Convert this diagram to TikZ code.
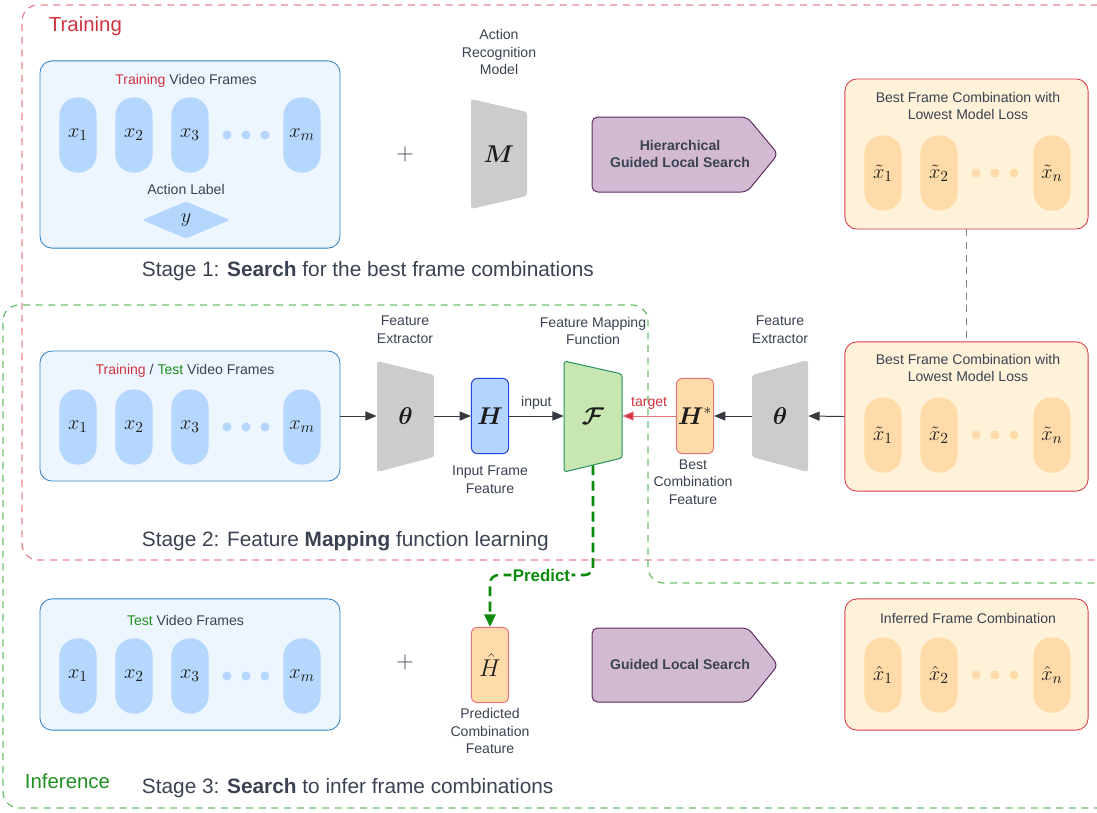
\documentclass[tikz,border=0pt]{standalone}
\usepackage{amsmath}
\usepackage{fontspec}
\setmainfont{Liberation Sans}
\usetikzlibrary{arrows.meta,shapes.geometric}
\definecolor{ink}{HTML}{3B4251}
\definecolor{mathink}{HTML}{1C1C1C}
\definecolor{trainred}{HTML}{D0323F}
\definecolor{testgreen}{HTML}{1F8F1F}
\definecolor{traindash}{HTML}{E8868E}
\definecolor{testdash}{HTML}{6DC06D}
\definecolor{framefill}{HTML}{EDF5FE}
\definecolor{frameline}{HTML}{3184C6}
\definecolor{pillblue}{HTML}{B5D7FD}
\definecolor{combofill}{HTML}{FFF2D9}
\definecolor{comboline}{HTML}{D93A4A}
\definecolor{pillorange}{HTML}{FEDBA9}
\definecolor{encgray}{HTML}{CCCCCC}
\definecolor{featfill}{HTML}{B4D4FE}
\definecolor{featline}{HTML}{2443D9}
\definecolor{mapfill}{HTML}{C7E6B1}
\definecolor{mapline}{HTML}{23905F}
\definecolor{glsfill}{HTML}{D2BBD2}
\definecolor{glsline}{HTML}{5D2C5D}
\definecolor{predgreen}{HTML}{0A8A0A}
\definecolor{arrowink}{HTML}{343A40}
\definecolor{targetline}{HTML}{E5737C}

\begin{document}
\begin{tikzpicture}[x=0.025cm,y=-0.025cm,text=ink,line join=round,
  font=\fontsize{10}{12.5}\selectfont,
  vidbox/.style={draw=frameline,fill=framefill,line width=0.6pt,rounded corners=0.3cm,
    minimum width=7.5cm,inner sep=0pt},
  combobox/.style={draw=comboline,fill=combofill,line width=0.6pt,rounded corners=0.3cm,
    minimum width=6.08cm,inner sep=0pt},
  pill/.style={rounded corners=0.45cm,minimum width=0.93cm,minimum height=1.88cm,
    inner sep=0pt,text=mathink,font=\fontsize{15}{15}\selectfont},
  bluepill/.style={pill,fill=pillblue},
  orpill/.style={pill,fill=pillorange},
  featbox/.style={rounded corners=0.15cm,minimum width=0.93cm,minimum height=1.88cm,
    inner sep=0pt,line width=0.7pt,text=mathink,font=\fontsize{16}{16}\selectfont},
  encnode/.style={minimum height=2.45cm,inner sep=0pt,text=mathink,
    font=\fontsize{16}{16}\selectfont},
  stage/.style={anchor=west,font=\fontsize{14.8}{16}\selectfont},
  flow/.style={draw=arrowink,line width=0.7pt,-{Triangle[length=8pt,width=6.5pt]}},
  dashline/.style={line width=0.9pt,dash pattern=on 5pt off 4pt,rounded corners=0.4cm}]
  \useasboundingbox (0,0) rectangle (1097,812);

  % Training and inference regions.
  \draw[dashline,traindash] (1120,560) -| (22,5) -- (1120,5);
  \draw[dashline,testdash] (1120,583) -| (648,305) -| (3,808) -- (1120,808);
  \node[anchor=west,text=trainred,font=\fontsize{14.5}{16}\selectfont] at (44,26) {Training};
  \node[anchor=west,text=testgreen,font=\fontsize{14.5}{16}\selectfont] at (20,781) {Inference};

  % Stage 1: search.
  \node[vidbox,minimum height=4.68cm] (vf1) at (190,154.5) {};
  \node at (186,81) {{\color{trainred}Training} Video Frames};
  \node[bluepill] (a1) at (78,135) {$x_1$};
  \node[bluepill] (a2) at (134,135) {$x_2$};
  \node[bluepill] (a3) at (190,135) {$x_3$};
  \node[bluepill] (am) at (302,135) {$x_m$};
  \fill[pillblue] (227,135) circle (4.5) (246,135) circle (4.5) (265,135) circle (4.5);
  \node at (186,189) {Action Label};
  \node[diamond,fill=pillblue,rounded corners=2pt,minimum width=2.2cm,minimum height=0.93cm,
    inner sep=0pt,text=mathink,font=\fontsize{15}{15}\selectfont] (lab) at (186,220) {$y$};
  \node[font=\fontsize{18}{18}\selectfont] (plus1) at (405,154) {$+$};
  \fill[encgray,rounded corners=2pt] (471,99) -- (527,112) -- (527,196) -- (471,209) -- cycle;
  \node[encnode,minimum width=1.4cm] (arm) at (499,154) {$\boldsymbol{M}$};
  \node[align=center] at (499,52) {Action\\Recognition\\Model};
  \draw[glsline,fill=glsfill,line width=0.7pt,rounded corners=4pt]
    (592,117) -- (747,117) -- (778,154) -- (747,192) -- (592,192) -- cycle;
  \node[align=center,font=\bfseries\fontsize{10}{12.5}\selectfont] (hgls) at (680,154)
    {Hierarchical\\Guided Local Search};
  \node[combobox,minimum height=3.75cm] (bestA) at (966.5,154) {};
  \node[align=center] at (968,106) {Best Frame Combination with\\Lowest Model Loss};
  \node[orpill] (b1) at (883,173) {$\tilde{x}_1$};
  \node[orpill] (b2) at (939,173) {$\tilde{x}_2$};
  \node[orpill] (bn) at (1052,173) {$\tilde{x}_n$};
  \fill[pillorange] (976,173) circle (4.5) (995,173) circle (4.5) (1014,173) circle (4.5);
  \node[stage] at (137,271) {Stage 1: \textbf{Search} for the best frame combinations};

  % Stage 2: feature mapping.
  \node[vidbox,minimum height=3.25cm] (vf2) at (190,416) {};
  \node at (185,371) {{\color{trainred}Training} / {\color{testgreen}Test} Video Frames};
  \node[bluepill] (c1) at (78,427) {$x_1$};
  \node[bluepill] (c2) at (134,427) {$x_2$};
  \node[bluepill] (c3) at (190,427) {$x_3$};
  \node[bluepill] (cm) at (302,427) {$x_m$};
  \fill[pillblue] (227,427) circle (4.5) (246,427) circle (4.5) (265,427) circle (4.5);
  \fill[encgray,rounded corners=2pt] (377,361) -- (434,375) -- (434,457) -- (377,472) -- cycle;
  \node[encnode,minimum width=1.43cm] (th1) at (405.5,416) {$\boldsymbol{\theta}$};
  \node[align=center] at (405,330) {Feature\\Extractor};
  \node[featbox,fill=featfill,draw=featline] (h) at (490,416) {$\boldsymbol{H}$};
  \node[align=center] at (490,480) {Input Frame\\Feature};
  \draw[mapline,fill=mapfill,line width=0.7pt,rounded corners=2pt]
    (564,361) -- (622,374) -- (622,458) -- (564,472) -- cycle;
  \node[encnode,minimum width=1.45cm] (map) at (593,416) {$\boldsymbol{\mathcal{F}}$};
  \node[align=center] at (593,331) {Feature Mapping\\Function};
  \node[featbox,fill=pillorange,draw=targetline] (hs) at (695,416) {$\boldsymbol{H}^{*}$};
  \node[align=center] at (693,482) {Best\\Combination\\Feature};
  \fill[encgray,rounded corners=2pt] (752,375) -- (808,360) -- (808,472) -- (752,457) -- cycle;
  \node[encnode,minimum width=1.4cm] (th2) at (780,416) {$\boldsymbol{\theta}$};
  \node[align=center] at (780,330) {Feature\\Extractor};
  \node[combobox,minimum height=3.73cm] (bestB) at (966.5,416.5) {};
  \node[align=center] at (968,368) {Best Frame Combination with\\Lowest Model Loss};
  \node[orpill] (d1) at (883,435) {$\tilde{x}_1$};
  \node[orpill] (d2) at (939,435) {$\tilde{x}_2$};
  \node[orpill] (dn) at (1052,435) {$\tilde{x}_n$};
  \fill[pillorange] (976,435) circle (4.5) (995,435) circle (4.5) (1014,435) circle (4.5);
  \draw[flow] (vf2.east) -- (th1.west);
  \draw[flow] (th1.east) -- (h.west);
  \draw[flow] (h.east) -- node[above=1pt] {input} (map.west);
  \draw[targetline,line width=0.7pt,-{Triangle[length=8pt,width=6.5pt,fill=trainred]}]
    (hs.west) -- node[above=1pt,text=trainred] {target} (map.east);
  \draw[flow] (th2.west) -- (hs.east);
  \draw[flow] (bestB.west) -- (th2.east);
  \draw[gray,line width=0.9pt,dash pattern=on 5pt off 4pt] (bestA.south) -- (bestB.north);
  \node[stage] at (137,541) {Stage 2: Feature \textbf{Mapping} function learning};

  % Stage 3: inference.
  \node[vidbox,minimum height=3.28cm] (vf3) at (190,664.5) {};
  \node at (185.5,620) {{\color{testgreen}Test} Video Frames};
  \node[bluepill] (e1) at (78,676) {$x_1$};
  \node[bluepill] (e2) at (134,676) {$x_2$};
  \node[bluepill] (e3) at (190,676) {$x_3$};
  \node[bluepill] (em) at (302,676) {$x_m$};
  \fill[pillblue] (227,676) circle (4.5) (246,676) circle (4.5) (265,676) circle (4.5);
  \node[font=\fontsize{18}{18}\selectfont] (plus2) at (405,662) {$+$};
  \node[featbox,fill=pillorange,draw=targetline] (hhat) at (490,665) {$\hat{H}$};
  \node[align=center] at (490,731) {Predicted\\Combination\\Feature};
  \coordinate (bend) at (490,575);
  \draw[predgreen,line width=1.8pt,dash pattern=on 7pt off 4pt,rounded corners=6pt,
    -{Triangle[length=9pt,width=8pt]}]
    (map.south) |- node[pos=.75,fill=white,inner sep=1pt,text=predgreen,
      font=\bfseries\fontsize{12}{12}\selectfont] {Predict} (bend) -- (hhat.north);
  \draw[glsline,fill=glsfill,line width=0.7pt,rounded corners=4pt]
    (592,628) -- (748,628) -- (778,665) -- (748,702) -- (592,702) -- cycle;
  \node[font=\bfseries\fontsize{10}{12.5}\selectfont] (gls) at (680,664) {Guided Local Search};
  \node[combobox,minimum height=3.28cm] (bestC) at (966.5,664.5) {};
  \node at (968,618) {Inferred Frame Combination};
  \node[orpill] (f1) at (883,675) {$\hat{x}_1$};
  \node[orpill] (f2) at (939,675) {$\hat{x}_2$};
  \node[orpill] (fn) at (1052,675) {$\hat{x}_n$};
  \fill[pillorange] (976,675) circle (4.5) (995,675) circle (4.5) (1014,675) circle (4.5);
  \node[stage] at (137,788) {Stage 3: \textbf{Search} to infer frame combinations};
\end{tikzpicture}
\end{document}
